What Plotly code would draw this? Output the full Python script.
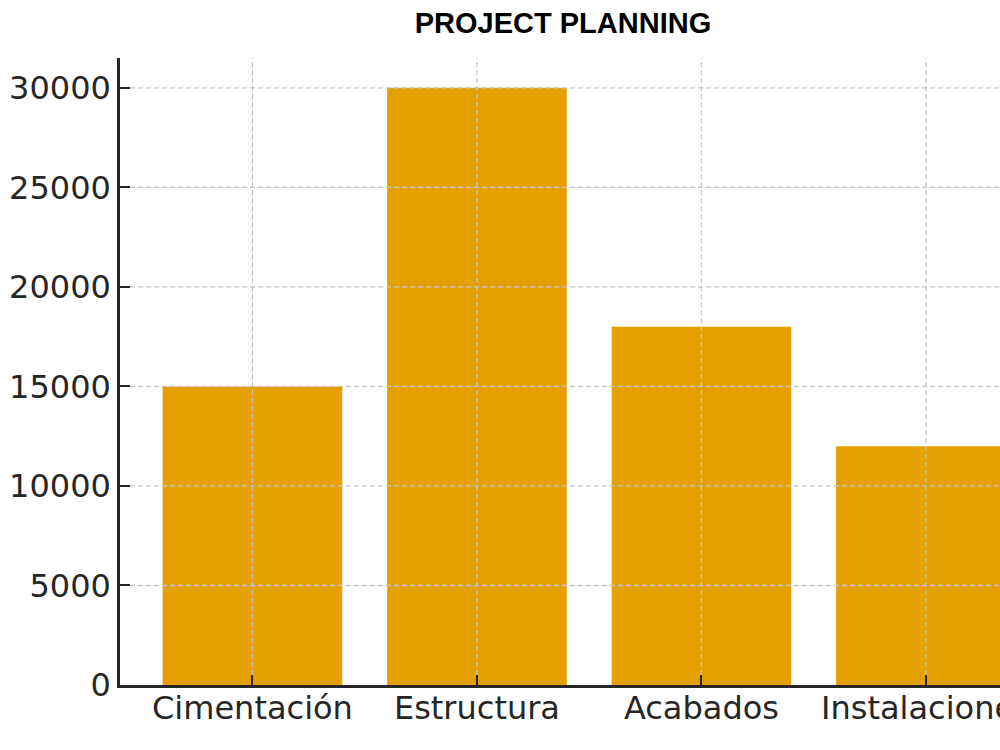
import plotly.graph_objects as go

categories = ["Cimentación", "Estructura", "Acabados", "Instalaciones"]
costs = [15000, 30000, 18000, 12000]
y_ticks = [0, 5000, 10000, 15000, 20000, 25000, 30000]

bar_color = "#E5A000"
axis_color = "#262626"
grid_color = "#c4c4c4"
x_range = [-0.59, 3.33]
tick_len = 10

fig = go.Figure()
fig.add_trace(go.Bar(
    x=list(range(len(categories))), y=costs,
    marker=dict(color=bar_color, line=dict(width=0)),
    width=0.8,
))

grid_line = dict(color=grid_color, width=1.3, dash="5px,3px")
shapes = []
for v in y_ticks[1:]:
    shapes.append(dict(type="line", xref="x", xsizemode="pixel", xanchor=x_range[0],
                       x0=tick_len, x1=3000, yref="y", y0=v, y1=v,
                       layer="above", line=grid_line))
for i in range(len(categories)):
    shapes.append(dict(type="line", xref="x", x0=i, x1=i, yref="y", ysizemode="pixel",
                       yanchor=0, y0=tick_len, y1=3000,
                       layer="above", line=grid_line))

fig.update_layout(
    width=1000, height=750,
    margin=dict(l=120, r=0, t=58, b=65),
    plot_bgcolor="white", paper_bgcolor="white",
    showlegend=False,
    shapes=shapes,
    title=dict(text="<b>PROJECT PLANNING</b>", x=0.563, xanchor="center", y=0.970, yanchor="middle",
               font=dict(family="Liberation Sans, Arial", size=29, color="black")),
    font=dict(family="DejaVu Sans", color=axis_color),
)
fig.update_xaxes(
    range=x_range, tickmode="array", tickvals=list(range(len(categories))), ticktext=categories,
    showgrid=False, zeroline=False, showline=True, linecolor=axis_color, linewidth=2.5,
    ticks="inside", ticklen=tick_len, tickwidth=2, tickcolor=axis_color,
    tickfont=dict(size=32, color=axis_color), layer="above traces",
    ticklabeloverflow="allow", ticklabelstandoff=-7, automargin=False,
)
fig.update_yaxes(
    range=[0, 31500], tickmode="array", tickvals=y_ticks, ticktext=[str(v) for v in y_ticks],
    showgrid=False, zeroline=False, showline=True, linecolor=axis_color, linewidth=2.5,
    ticks="inside", ticklen=tick_len, tickwidth=2, tickcolor=axis_color,
    tickfont=dict(size=32, color=axis_color), layer="above traces", automargin=False,
)

fig.write_html("out.html")
